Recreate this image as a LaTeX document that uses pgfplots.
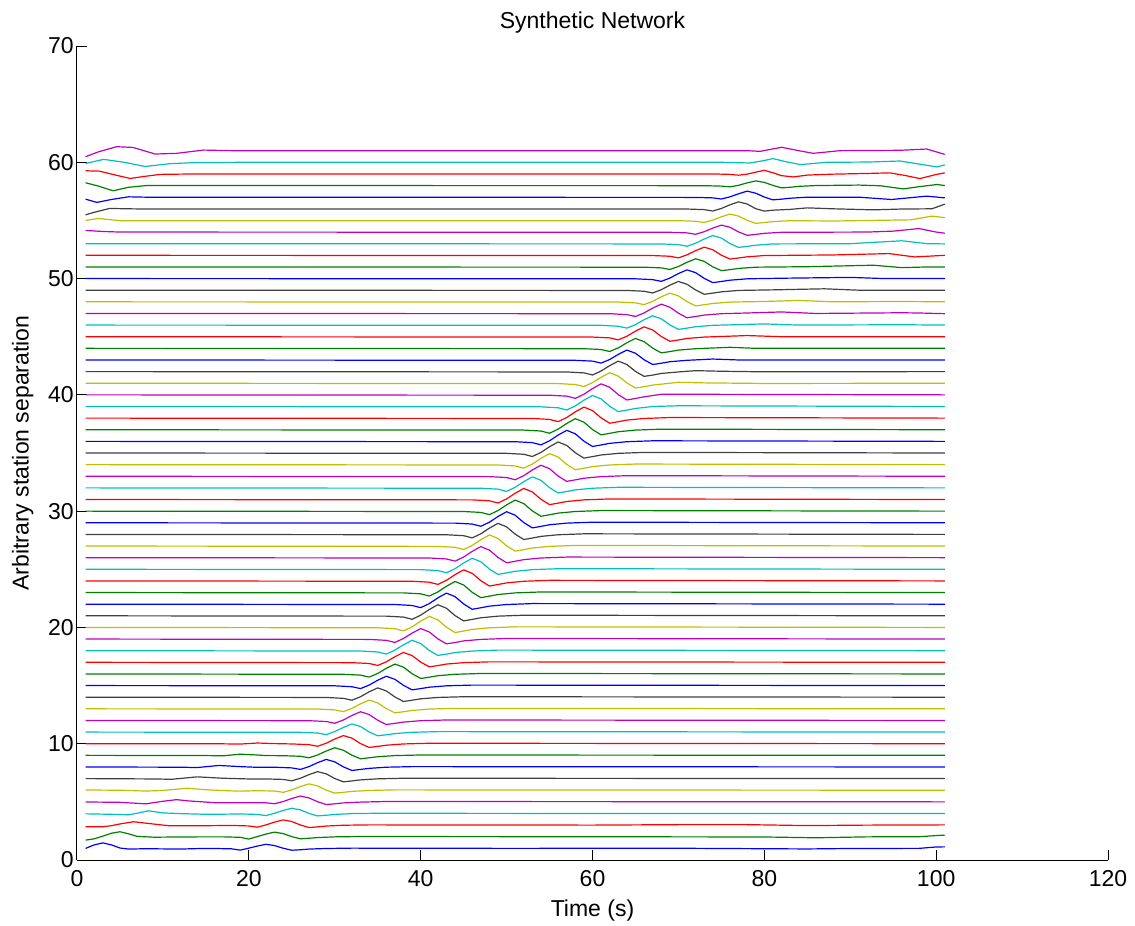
\documentclass[border=0pt]{standalone}
\usepackage{fontspec}
\setmainfont{Liberation Sans}
\usepackage{pgfplots}
\pgfplotsset{compat=1.18}
\definecolor{mb}{rgb}{0,0,1}
\definecolor{mg}{rgb}{0,0.5,0}
\definecolor{mr}{rgb}{1,0,0}
\definecolor{mc}{rgb}{0,0.75,0.75}
\definecolor{mm}{rgb}{0.75,0,0.75}
\definecolor{my}{rgb}{0.75,0.75,0}
\definecolor{mk}{rgb}{0.25,0.25,0.25}
\begin{document}
\begin{tikzpicture}
\useasboundingbox (-38.5pt,-33pt) rectangle (529pt,430pt);
\begin{axis}[
  at={(0pt,0pt)}, anchor=south west,
  scale only axis, width=515.5pt, height=407pt,
  xmin=0, xmax=120, ymin=0, ymax=70,
  xtick={0,20,...,120}, ytick={0,10,...,70},
  axis x line*=bottom, axis y line*=left,
  axis line style={-, black, line width=0.5pt},
  tick align=inside, major tick length=5pt,
  tick style={black, line width=0.5pt},
  /pgf/number format/assume math mode=true,
  tick label style={font=\fontsize{11.5}{13.8}\selectfont},
  xticklabel style={anchor=base, inner sep=0pt, yshift=-13pt},
  yticklabel style={anchor=east, inner sep=0pt, xshift=-1.5pt},
  label style={font=\fontsize{11.5}{13.8}\selectfont},
  title style={font=\fontsize{11.5}{13.8}\selectfont, at={(axis description cs:0.5,1.0215)}, anchor=base, yshift=-6pt},
  xlabel style={at={(axis description cs:0.5,-0.0695)}, anchor=base},
  ylabel style={at={(axis description cs:-0.047,0.5)}, anchor=base},
  title={Synthetic Network},
  xlabel={Time (s)},
  ylabel={Arbitrary station separation},
  no markers,
  cycle list={{mb},{mg},{mr},{mc},{mm},{my},{mk}},
  every axis plot/.append style={line width=0.6pt, line join=round},
]
% k=1
\addplot coordinates {(1,1.00) (2,1.30) (3,1.47) (4,1.30) (5,1.03) (6,0.94) (8,0.97) (12,0.94) (14,0.98) (16,0.99) (18,0.96) (19,0.85) (20,1.02) (21,1.20) (22,1.35) (23,1.24) (24,1.01) (25,0.84) (26,0.88) (27,0.94) (29,0.99) (32,1.02) (50,1.00) (70,1.01) (85,0.95) (90,0.99) (98,1.00) (100,1.12) (101,1.13)};
% k=2
\addplot coordinates {(1,1.71) (2,1.82) (3,2.05) (4,2.30) (5,2.43) (6,2.25) (7,2.03) (9,1.96) (12,1.98) (15,1.99) (17,1.99) (19,1.95) (20,1.80) (21,2.02) (22,2.23) (23,2.40) (24,2.27) (25,2.01) (26,1.82) (27,1.87) (28,1.93) (30,1.99) (33,2.02) (60,2.00) (80,1.98) (86,1.91) (92,1.99) (98,2.00) (100,2.10) (101,2.14)};
% k=3
\addplot coordinates {(1,2.86) (3,2.86) (4,2.95) (5,3.10) (6.6,3.29) (8,3.17) (9.3,3.06) (10.8,2.94) (15,2.95) (18,2.97) (20,2.93) (21,2.82) (22,3.02) (23,3.26) (24,3.45) (25,3.31) (26,3.01) (27,2.79) (28,2.85) (29,2.92) (31,2.99) (34,3.02) (60,3.00) (70,3.04) (78,3.04) (85,2.96) (92,3.00) (101,3.02)};
% k=4
\addplot coordinates {(1,3.97) (4,3.93) (6,3.89) (7,4.02) (8.3,4.23) (10,4.05) (12,3.99) (15,3.93) (17,3.94) (19,3.96) (21,3.92) (22,3.82) (23,4.02) (24,4.26) (25,4.45) (26,4.31) (27,4.01) (28,3.79) (29,3.85) (30,3.92) (32,3.99) (35,4.02) (60,4.00) (101,4.00)};
% k=5
\addplot coordinates {(1,4.99) (5,4.96) (8,4.83) (10,5.05) (11.6,5.19) (13,5.08) (16,4.93) (18,4.92) (20,4.93) (22,4.92) (23,4.84) (24,5.03) (25,5.29) (26,5.50) (27,5.34) (28,5.01) (29,4.77) (30,4.83) (31,4.91) (33,4.98) (36,5.03) (101,5.00)};
% k=6
\addplot coordinates {(1,6.02) (5,6.00) (8,5.93) (10,5.98) (12.8,6.17) (15,6.04) (17,5.97) (19,5.92) (21,5.96) (23,5.93) (24,5.82) (25,6.03) (26,6.31) (27,6.55) (28,6.37) (29,6.01) (30,5.75) (31,5.82) (32,5.90) (34,5.98) (37,6.03) (101,6.00)};
% k=7
\addplot coordinates {(1,7.00) (9,6.97) (11,6.94) (14,7.15) (17,7.03) (20,6.97) (22,6.97) (24,6.93) (25,6.81) (26,7.03) (27,7.34) (28,7.60) (29,7.41) (30,7.01) (31,6.72) (32,6.80) (33,6.89) (35,6.98) (38,7.03) (101,7.00)};
% k=8
\addplot coordinates {(1,8.00) (12,7.98) (14,7.95) (16.5,8.13) (19,8.03) (21,7.97) (23,7.98) (25,7.92) (26,7.79) (27,8.03) (28,8.37) (29,8.65) (30,8.44) (31,8.01) (32,7.70) (33,7.79) (34,7.88) (36,7.98) (39,8.03) (101,8.00)};
% k=9
\addplot coordinates {(1,9.00) (15,8.98) (17,8.96) (19,9.10) (21,9.03) (22,8.98) (24,8.97) (26,8.92) (27,8.79) (28,9.03) (29,9.37) (30,9.65) (31,9.44) (32,9.01) (33,8.70) (34,8.79) (35,8.88) (37,8.98) (40,9.03) (101,9.00)};
% k=10
\addplot coordinates {(1,10.00) (17,9.99) (19,9.97) (21,10.06) (23,10.01) (25,9.98) (27,9.92) (28,9.78) (29,10.04) (30,10.40) (31,10.70) (32,10.48) (33,10.01) (34,9.68) (35,9.77) (36,9.87) (38,9.98) (41,10.04) (101,10.00)};
% k=11
\addplot coordinates {(1,11.00) (26,10.98) (28,10.92) (29,10.78) (30,11.04) (31,11.40) (32,11.70) (33,11.48) (34,11.01) (35,10.68) (36,10.77) (37,10.87) (39,10.98) (42,11.04) (101,11.00)};
% k=12
\addplot coordinates {(1,12.00) (27,11.98) (29,11.91) (30,11.76) (31,12.04) (32,12.43) (33,12.75) (34,12.51) (35,12.02) (36,11.65) (37,11.75) (38,11.86) (40,11.98) (43,12.04) (101,12.00)};
% k=13
\addplot coordinates {(1,13.00) (28,12.98) (30,12.91) (31,12.76) (32,13.04) (33,13.43) (34,13.75) (35,13.51) (36,13.02) (37,12.65) (38,12.75) (39,12.86) (41,12.98) (44,13.04) (101,13.00)};
% k=14
\addplot coordinates {(1,14.00) (29,13.98) (31,13.90) (32,13.74) (33,14.04) (34,14.46) (35,14.80) (36,14.54) (37,14.02) (38,13.63) (39,13.74) (40,13.86) (42,13.98) (45,14.04) (101,14.00)};
% k=15
\addplot coordinates {(1,15.00) (30,14.98) (32,14.90) (33,14.74) (34,15.04) (35,15.46) (36,15.80) (37,15.54) (38,15.02) (39,14.63) (40,14.74) (41,14.86) (43,14.98) (46,15.04) (101,15.00)};
% k=16
\addplot coordinates {(1,16.00) (31,15.97) (33,15.90) (34,15.73) (35,16.04) (36,16.48) (37,16.85) (38,16.58) (39,16.02) (40,15.61) (41,15.72) (42,15.85) (44,15.97) (47,16.04) (101,16.00)};
% k=17
\addplot coordinates {(1,17.00) (32,16.97) (34,16.90) (35,16.73) (36,17.04) (37,17.48) (38,17.85) (39,17.58) (40,17.02) (41,16.61) (42,16.72) (43,16.85) (45,16.97) (48,17.04) (101,17.00)};
% k=18
\addplot coordinates {(1,18.00) (33,17.97) (35,17.89) (36,17.71) (37,18.05) (38,18.51) (39,18.90) (40,18.61) (41,18.02) (42,17.59) (43,17.70) (44,17.84) (46,17.97) (49,18.05) (101,18.00)};
% k=19
\addplot coordinates {(1,19.00) (34,18.97) (36,18.89) (37,18.71) (38,19.05) (39,19.51) (40,19.90) (41,19.61) (42,19.02) (43,18.59) (44,18.70) (45,18.84) (47,18.97) (50,19.05) (101,19.00)};
% k=20
\addplot coordinates {(1,20) (35,19.97) (37,19.89) (38,19.70) (39,20.05) (40,20.54) (41,20.95) (42,20.65) (43,20.02) (44,19.56) (45,19.69) (46,19.83) (48,19.97) (51,20.05) (101,20)};
% k=21
\addplot coordinates {(1,21) (36,20.97) (38,20.89) (39,20.70) (40,21.05) (41,21.54) (42,21.95) (43,21.65) (44,21.02) (45,20.56) (46,20.69) (47,20.83) (49,20.97) (52,21.05) (101,21)};
% k=22
\addplot coordinates {(1,22) (37,21.97) (39,21.89) (40,21.70) (41,22.05) (42,22.54) (43,22.95) (44,22.65) (45,22.02) (46,21.56) (47,21.69) (48,21.83) (50,21.97) (53,22.05) (101,22)};
% k=23
\addplot coordinates {(1,23) (38,22.97) (40,22.89) (41,22.70) (42,23.05) (43,23.54) (44,23.95) (45,23.65) (46,23.02) (47,22.56) (48,22.69) (49,22.83) (51,22.97) (54,23.05) (101,23)};
% k=24
\addplot coordinates {(1,24) (39,23.97) (41,23.89) (42,23.70) (43,24.05) (44,24.54) (45,24.95) (46,24.65) (47,24.02) (48,23.56) (49,23.69) (50,23.83) (52,23.97) (55,24.05) (101,24)};
% k=25
\addplot coordinates {(1,25) (40,24.97) (42,24.89) (43,24.70) (44,25.05) (45,25.54) (46,25.95) (47,25.65) (48,25.02) (49,24.56) (50,24.69) (51,24.83) (53,24.97) (56,25.05) (101,25)};
% k=26
\addplot coordinates {(1,26) (41,25.97) (43,25.89) (44,25.70) (45,26.05) (46,26.54) (47,26.95) (48,26.65) (49,26.02) (50,25.56) (51,25.69) (52,25.83) (54,25.97) (57,26.05) (101,26)};
% k=27
\addplot coordinates {(1,27) (42,26.97) (44,26.89) (45,26.70) (46,27.05) (47,27.54) (48,27.95) (49,27.65) (50,27.02) (51,26.56) (52,26.69) (53,26.83) (55,26.97) (58,27.05) (101,27)};
% k=28
\addplot coordinates {(1,28) (43,27.97) (45,27.89) (46,27.70) (47,28.05) (48,28.54) (49,28.95) (50,28.65) (51,28.02) (52,27.56) (53,27.69) (54,27.83) (56,27.97) (59,28.05) (101,28)};
% k=29
\addplot coordinates {(1,29) (44,28.97) (46,28.89) (47,28.70) (48,29.05) (49,29.54) (50,29.95) (51,29.65) (52,29.02) (53,28.56) (54,28.69) (55,28.83) (57,28.97) (60,29.05) (101,29)};
% k=30
\addplot coordinates {(1,30) (45,29.97) (47,29.89) (48,29.70) (49,30.05) (50,30.54) (51,30.95) (52,30.65) (53,30.02) (54,29.56) (55,29.69) (56,29.83) (58,29.97) (61,30.05) (101,30)};
% k=31
\addplot coordinates {(1,31) (46,30.97) (48,30.89) (49,30.70) (50,31.05) (51,31.54) (52,31.95) (53,31.65) (54,31.02) (55,30.56) (56,30.69) (57,30.83) (59,30.97) (62,31.05) (101,31)};
% k=32
\addplot coordinates {(1,32) (47,31.97) (49,31.89) (50,31.70) (51,32.05) (52,32.54) (53,32.95) (54,32.65) (55,32.02) (56,31.56) (57,31.69) (58,31.83) (60,31.97) (63,32.05) (101,32)};
% k=33
\addplot coordinates {(1,33) (48,32.97) (50,32.89) (51,32.70) (52,33.05) (53,33.54) (54,33.95) (55,33.65) (56,33.02) (57,32.56) (58,32.69) (59,32.83) (61,32.97) (64,33.05) (101,33)};
% k=34
\addplot coordinates {(1,34) (49,33.97) (51,33.89) (52,33.70) (53,34.05) (54,34.54) (55,34.95) (56,34.65) (57,34.02) (58,33.56) (59,33.69) (60,33.83) (62,33.97) (65,34.05) (101,34)};
% k=35
\addplot coordinates {(1,35) (50,34.97) (52,34.89) (53,34.70) (54,35.05) (55,35.54) (56,35.95) (57,35.65) (58,35.02) (59,34.56) (60,34.69) (61,34.83) (63,34.97) (66,35.05) (101,35)};
% k=36
\addplot coordinates {(1,36) (51,35.97) (53,35.89) (54,35.70) (55,36.05) (56,36.54) (57,36.95) (58,36.65) (59,36.02) (60,35.56) (61,35.69) (62,35.83) (64,35.97) (67,36.05) (101,36)};
% k=37
\addplot coordinates {(1,37) (52,36.97) (54,36.89) (55,36.70) (56,37.05) (57,37.54) (58,37.95) (59,37.65) (60,37.02) (61,36.56) (62,36.69) (63,36.83) (65,36.97) (68,37.05) (101,37)};
% k=38
\addplot coordinates {(1,38) (53,37.97) (55,37.89) (56,37.70) (57,38.05) (58,38.54) (59,38.95) (60,38.65) (61,38.02) (62,37.56) (63,37.69) (64,37.83) (66,37.97) (69,38.05) (101,38)};
% k=39
\addplot coordinates {(1,39) (54,38.97) (56,38.89) (57,38.70) (58,39.05) (59,39.54) (60,39.95) (61,39.65) (62,39.02) (63,38.56) (64,38.69) (65,38.83) (67,39.00) (70,39.06) (101,39)};
% k=40
\addplot coordinates {(1,40) (55,39.97) (57,39.89) (58,39.70) (59,40.05) (60,40.54) (61,40.95) (62,40.65) (63,40.02) (64,39.56) (65,39.69) (66,39.83) (68,40.05) (71,40.05) (101,40)};
% k=41
\addplot coordinates {(1,41.00) (56,40.97) (58,40.89) (59,40.71) (60,41.05) (61,41.51) (62,41.90) (63,41.61) (64,41.02) (65,40.59) (66,40.70) (67,40.84) (70,41.08) (73,41.03) (80,40.98) (101,41.00)};
% k=42
\addplot coordinates {(1,42.00) (57,41.97) (59,41.89) (60,41.71) (61,42.05) (62,42.51) (63,42.90) (64,42.61) (65,42.02) (66,41.59) (67,41.70) (68,41.84) (70,41.97) (72,42.08) (75,42.03) (80,41.98) (101,42.00)};
% k=43
\addplot coordinates {(1,43.00) (58,42.97) (60,42.90) (61,42.73) (62,43.04) (63,43.48) (64,43.85) (65,43.58) (66,43.02) (67,42.61) (68,42.72) (69,42.85) (71,42.97) (74,43.08) (77,43.00) (101,43.00)};
% k=44
\addplot coordinates {(1,44.00) (59,43.97) (61,43.90) (62,43.73) (63,44.04) (64,44.48) (65,44.85) (66,44.58) (67,44.02) (68,43.61) (69,43.72) (70,43.85) (72,43.97) (76,44.09) (79,44.00) (101,44.00)};
% k=45
\addplot coordinates {(1,45.00) (60,44.97) (62,44.90) (63,44.73) (64,45.04) (65,45.48) (66,45.85) (67,45.58) (68,45.02) (69,44.61) (70,44.72) (71,44.85) (73,44.97) (75,45.02) (78,45.10) (82,45.00) (101,45.00)};
% k=46
\addplot coordinates {(1,46.00) (61,45.98) (63,45.90) (64,45.74) (65,46.04) (66,46.46) (67,46.80) (68,46.54) (69,46.02) (70,45.63) (71,45.74) (72,45.86) (74,45.98) (77,46.04) (80,46.10) (84,46.00) (96,46.03) (101,46.00)};
% k=47
\addplot coordinates {(1,47.00) (62,46.98) (64,46.90) (65,46.74) (66,47.04) (67,47.46) (68,47.80) (69,47.54) (70,47.02) (71,46.63) (72,46.74) (73,46.86) (75,46.98) (78,47.04) (82,47.13) (86,47.00) (96,47.06) (98,47.04) (101,46.98)};
% k=48
\addplot coordinates {(1,48.00) (63,47.98) (65,47.91) (66,47.76) (67,48.04) (68,48.43) (69,48.75) (70,48.51) (71,48.02) (72,47.65) (73,47.75) (74,47.86) (76,47.98) (80,48.03) (84,48.12) (88,48.00) (96,48.03) (101,48.00)};
% k=49
\addplot coordinates {(1,49.00) (64,48.98) (66,48.91) (67,48.76) (68,49.04) (69,49.43) (70,49.75) (71,49.51) (72,49.02) (73,48.65) (74,48.75) (75,48.86) (77,48.98) (81,49.03) (87,49.12) (91,49.00) (101,49.00)};
% k=50
\addplot coordinates {(1,50.00) (65,49.98) (67,49.91) (68,49.76) (69,50.04) (70,50.43) (71,50.75) (72,50.51) (73,50.02) (74,49.65) (75,49.75) (76,49.86) (78,49.98) (82,50.03) (90,50.10) (94,50.00) (101,50.00)};
% k=51
\addplot coordinates {(1,51.00) (66,50.98) (68,50.92) (69,50.78) (70,51.04) (71,51.40) (72,51.70) (73,51.48) (74,51.01) (75,50.68) (76,50.77) (77,50.87) (79,50.98) (85,51.02) (92.7,51.15) (96,50.94) (99,51.00) (101,51.00)};
% k=52
\addplot coordinates {(1,52.00) (67,51.98) (69,51.92) (70,51.78) (71,52.04) (72,52.40) (73,52.70) (74,52.48) (75,52.01) (76,51.68) (77,51.77) (78,51.87) (80,51.98) (88,52.03) (94.5,52.15) (97.5,51.86) (101,52.00)};
% k=53
\addplot coordinates {(1,53.00) (68,52.98) (70,52.92) (71,52.78) (72,53.04) (73,53.40) (74,53.70) (75,53.48) (76,53.01) (77,52.68) (78,52.77) (79,52.87) (81,52.98) (90,53.00) (96,53.25) (99,53.00) (101,52.98)};
% k=54
\addplot coordinates {(1,54.14) (3,54.05) (5,54.00) (69,53.98) (71,53.93) (72,53.81) (73,54.03) (74,54.34) (75,54.60) (76,54.41) (77,54.01) (78,53.72) (79,53.80) (80,53.89) (82,53.98) (92,54.00) (95,54.08) (98,54.30) (100,54.00) (101,53.90)};
% k=55
\addplot coordinates {(1,55.00) (2.5,55.17) (5,54.98) (70,54.98) (72,54.93) (73,54.82) (74,55.03) (75,55.31) (76,55.55) (77,55.37) (78,55.01) (79,54.75) (80,54.82) (81,54.90) (83,54.98) (88,54.95) (97,55.05) (99.5,55.37) (101,55.24)};
% k=56
\addplot coordinates {(1,55.48) (2,55.70) (3.8,56.03) (6,56.00) (8,55.98) (71,55.98) (73,55.93) (74,55.81) (75,56.03) (76,56.34) (77,56.60) (78,56.41) (79,56.01) (80,55.80) (81,55.88) (83,55.95) (85,56.08) (88,56.00) (92.7,55.91) (96,55.98) (99.5,56.00) (101,56.40)};
% k=57
\addplot coordinates {(1,56.83) (2.3,56.55) (4,56.80) (6,57.03) (8,57.00) (72,56.98) (74,56.94) (75,56.84) (76,57.03) (77,57.29) (78,57.52) (79,57.34) (80,57.01) (81,56.77) (82,56.83) (83,56.91) (85,57.00) (91,57.00) (94.8,56.80) (98.9,57.09) (101,56.94)};
% k=58
\addplot coordinates {(1,58.24) (2.5,57.95) (4.2,57.55) (6,57.85) (8.1,58.00) (12,58.00) (73,57.99) (75,57.95) (76,57.89) (77,58.02) (78,58.23) (79,58.40) (80,58.27) (81,58.01) (82,57.80) (83,57.85) (84,57.93) (86,58.00) (91,58.04) (93.5,57.98) (96.2,57.71) (98,57.90) (100.1,58.09) (101,58.00)};
% k=59
\addplot coordinates {(1,59.27) (2.6,59.24) (4.5,58.90) (6.2,58.61) (8,58.80) (9.7,58.96) (14,59.00) (74,59.00) (76,58.96) (77,58.89) (78,58.98) (79,59.15) (80,59.31) (81,59.10) (82,58.85) (83.4,58.74) (85,58.90) (88,58.98) (92,59.04) (94.6,59.09) (96.5,58.85) (98.1,58.60) (100,58.95) (101,59.09)};
% k=60
\addplot coordinates {(1,59.90) (3.1,60.25) (5.5,60.00) (7.9,59.64) (10.8,59.88) (14,59.98) (20,60.00) (75,60.00) (78.3,59.94) (80,60.15) (81,60.32) (82.5,60.05) (84.2,59.80) (87.3,60.00) (92,60.02) (95.8,60.11) (98,59.85) (100.1,59.60) (101,59.77)};
% k=61
\addplot coordinates {(1,60.48) (2.5,60.90) (4.6,61.34) (6.5,61.28) (9.1,60.71) (11.6,60.77) (14.7,61.05) (18,61.00) (78,61.00) (79.5,60.94) (82,61.29) (84,61.00) (85.7,60.77) (88.8,61.00) (95.8,61.03) (98.9,61.14) (101,60.68)};
\end{axis}
\end{tikzpicture}
\end{document}
